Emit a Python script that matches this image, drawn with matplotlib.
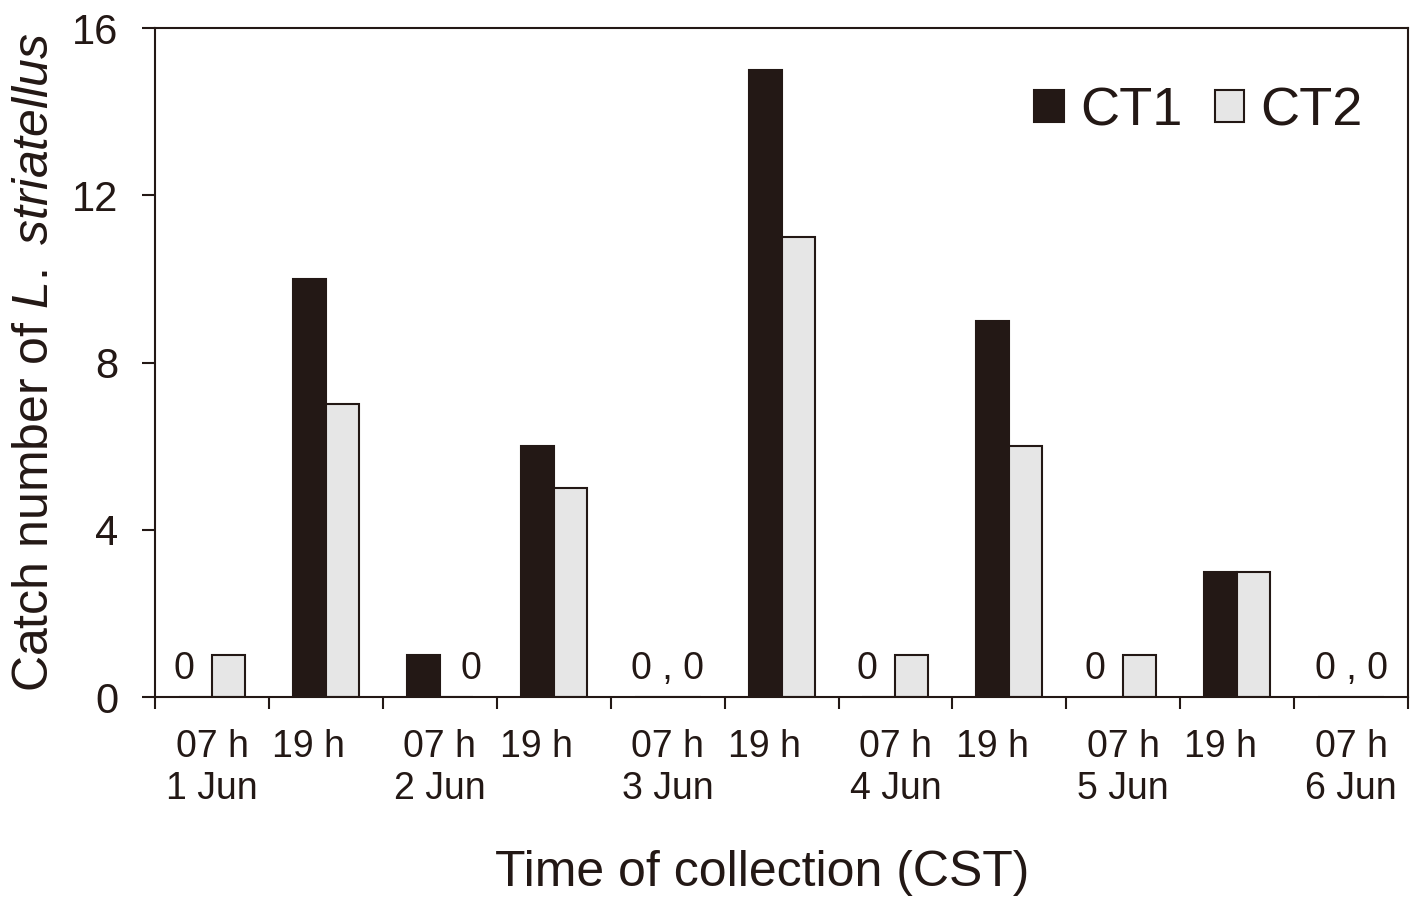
import numpy as np
import matplotlib
matplotlib.use("Agg")
import matplotlib.pyplot as plt
import matplotlib.transforms as mtransforms

plt.rcParams['font.family'] = ['Liberation Sans', 'DejaVu Sans']
plt.rcParams['mathtext.fontset'] = 'custom'
plt.rcParams['mathtext.it'] = 'Liberation Sans:italic'
plt.rcParams['mathtext.rm'] = 'Liberation Sans'

# data
labels = ["07 h\n1 Jun", "19 h", "07 h\n2 Jun", "19 h", "07 h\n3 Jun", "19 h",
          "07 h\n4 Jun", "19 h", "07 h\n5 Jun", "19 h", "07 h\n6 Jun"]
ct1 = [0, 10, 1, 6, 0, 15, 0, 9, 0, 3, 0]
ct2 = [1, 7, 0, 5, 0, 11, 1, 6, 1, 3, 0]

dark = '#231815'
light = '#e6e6e6'

fig = plt.figure(figsize=(14.11, 8.98), dpi=100)
ax = fig.add_axes([0.1099, 0.2238, 0.9979 - 0.1099, 0.9688 - 0.2238])

x = np.arange(len(labels)) + 0.5
w = 0.29
ax.bar(x - w / 2, ct1, w, color=dark, edgecolor=dark, linewidth=1.5, label='CT1')
ax.bar(x + w / 2, ct2, w, color=light, edgecolor=dark, linewidth=1.5, label='CT2')

# zero annotations
for i in range(len(labels)):
    if ct1[i] == 0 and ct2[i] == 0:
        ax.text(x[i], 0.25, "0 , 0", ha='center', va='bottom', fontsize=27, color=dark)
    elif ct1[i] == 0:
        ax.text(x[i] - 0.25, 0.25, "0", ha='center', va='bottom', fontsize=27, color=dark)
    elif ct2[i] == 0:
        ax.text(x[i] + 0.27, 0.25, "0", ha='center', va='bottom', fontsize=27, color=dark)

ax.set_xlim(0, len(labels))
ax.set_ylim(0, 16)
ax.set_yticks([0, 4, 8, 12, 16])
ax.set_xticks(x)
ax.set_xticklabels(labels, fontsize=27, color=dark, linespacing=1.2)
ax.set_xticks(np.arange(len(labels) + 1), minor=True)
ax.tick_params(axis='x', which='major', length=0, pad=23)
ax.tick_params(axis='x', which='minor', length=8.6, width=1.5, direction='out', color=dark)
ax.tick_params(axis='y', length=9.4, width=1.5, direction='out', color=dark,
               labelsize=30, labelcolor=dark, pad=17)

# the evening labels sit a bit left of centre in the original
shift = mtransforms.ScaledTranslation(-17 / 100, 0, fig.dpi_scale_trans)
for lab in ax.get_xticklabels():
    if lab.get_text() == "19 h":
        lab.set_transform(lab.get_transform() + shift)

for s in ax.spines.values():
    s.set_linewidth(1.5)
    s.set_color(dark)

ax.set_ylabel(r'Catch number of $\it{L.\ striatellus}$', fontsize=36, color=dark, labelpad=10)
ax.set_xlabel('Time of collection (CST)', fontsize=36, color=dark)
ax.xaxis.set_label_coords(0.4844, -0.228)

ax.legend(loc='upper right', bbox_to_anchor=(1.003, 0.986), ncol=2, frameon=False,
          fontsize=39, handlelength=0.55, handleheight=0.55, handletextpad=0.3,
          columnspacing=0.6, labelcolor=dark)

fig.savefig('out.png', dpi=100)
